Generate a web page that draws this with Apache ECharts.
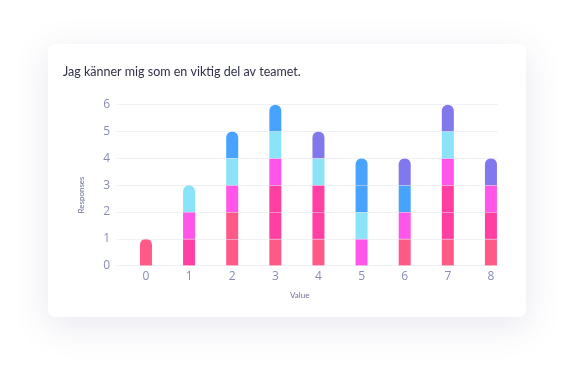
<!DOCTYPE html>
<html>
<head>
<meta charset="utf-8">
<script src="https://cdn.jsdelivr.net/npm/echarts@6/dist/echarts.min.js"></script>
<style>
  html, body { margin: 0; padding: 0; background: #ffffff; }
  #wrap { position: relative; width: 575px; height: 370px; overflow: hidden; }
  #card { position: absolute; left: 48px; top: 44px; width: 478px; height: 273px;
          background: #fff; border-radius: 7px;
          box-shadow: 0 8px 36px rgba(70, 70, 130, 0.13); }
  #chart { position: absolute; left: 0; top: 0; width: 575px; height: 370px; }
</style>
</head>
<body>
<div id="wrap">
  <div id="card"></div>
  <div id="chart"></div>
</div>
<script>
const titleText = "Jag känner mig som en viktig del av teamet.";
const categories = ["0", "1", "2", "3", "4", "5", "6", "7", "8"];
const yTicks = [0, 1, 2, 3, 4, 5, 6];
const seriesColors = ["#ff5a87", "#ff3fa2", "#ff55e8", "#8be3f7", "#48a3ff", "#8278ee"];
const s1 = [1, 0, 2, 1, 1, 0, 1, 1, 1];
const s2 = [0, 1, 0, 2, 2, 0, 0, 2, 1];
const s3 = [0, 1, 1, 1, 0, 1, 1, 1, 1];
const s4 = [0, 1, 1, 1, 1, 1, 0, 1, 0];
const s5 = [0, 0, 1, 1, 0, 2, 1, 0, 0];
const s6 = [0, 0, 0, 0, 1, 0, 1, 1, 1];
const seriesValues = [s1, s2, s3, s4, s5, s6];

const labelColor = "#878cb5";
const fontFam = "Lato, 'Noto Sans', sans-serif";
const tickFont = "'Open Sans', 'Noto Sans', sans-serif";

// top non-zero series for each category (gets rounded top)
const topIndex = categories.map((c, i) => {
  let t = -1;
  seriesValues.forEach((arr, si) => { if (arr[i] > 0) t = si; });
  return t;
});

const series = seriesValues.map((arr, si) => ({
  type: 'bar',
  stack: 'total',
  xAxisIndex: 1,
  yAxisIndex: 1,
  barWidth: 12,
  z: 2,
  data: arr.map((v, i) => ({
    value: v,
    itemStyle: {
      color: seriesColors[si],
      borderRadius: topIndex[i] === si ? [6, 6, 0, 0] : 0
    }
  }))
}));

const chart = echarts.init(document.getElementById('chart'), null, { renderer: 'canvas' });
chart.setOption({
  animation: false,
  backgroundColor: 'transparent',
  title: {
    text: titleText,
    left: 63, top: 65, padding: 0,
    textStyle: { fontFamily: fontFam, fontSize: 12.5, fontWeight: 'normal', color: '#2f2f4a' }
  },
  grid: [
    { left: 117, right: 77, top: 104.7, bottom: 104.3 },
    { left: 124.4, right: 62.5, top: 104.7, bottom: 104.3 }
  ],
  xAxis: [
    { type: 'value', gridIndex: 0, min: 0, max: 1, show: false },
    {
      type: 'category', gridIndex: 1, data: categories,
      axisLine: { show: false },
      axisTick: { show: false },
      axisLabel: { color: labelColor, fontSize: 12, fontFamily: tickFont, margin: 5 }
    }
  ],
  yAxis: [
    {
      type: 'value', gridIndex: 0,
      min: 0, max: 6, interval: 1,
      z: 3,
      axisLine: { show: false },
      axisTick: { show: false },
      splitLine: { lineStyle: { color: 'rgba(226,226,240,0.5)', width: 1 } },
      axisLabel: {
        color: labelColor, fontSize: 12, fontFamily: tickFont, margin: 7,
        formatter: v => yTicks.includes(v) ? String(v) : ''
      }
    },
    {
      type: 'value', gridIndex: 1, min: 0, max: 6, interval: 1, show: false,
      splitLine: { show: false }
    }
  ],
  graphic: [
    { type: 'text', left: 290, top: 291,
      style: { text: 'Value', fontSize: 8, fontFamily: fontFam, fill: '#6a6f95' } },
    { type: 'text', x: 81, y: 195, rotation: Math.PI / 2,
      style: { text: 'Responses', fontSize: 8, fontFamily: fontFam, fill: '#6a6f95',
               align: 'center', verticalAlign: 'middle' } }
  ],
  series: series
});
</script>
</body>
</html>
